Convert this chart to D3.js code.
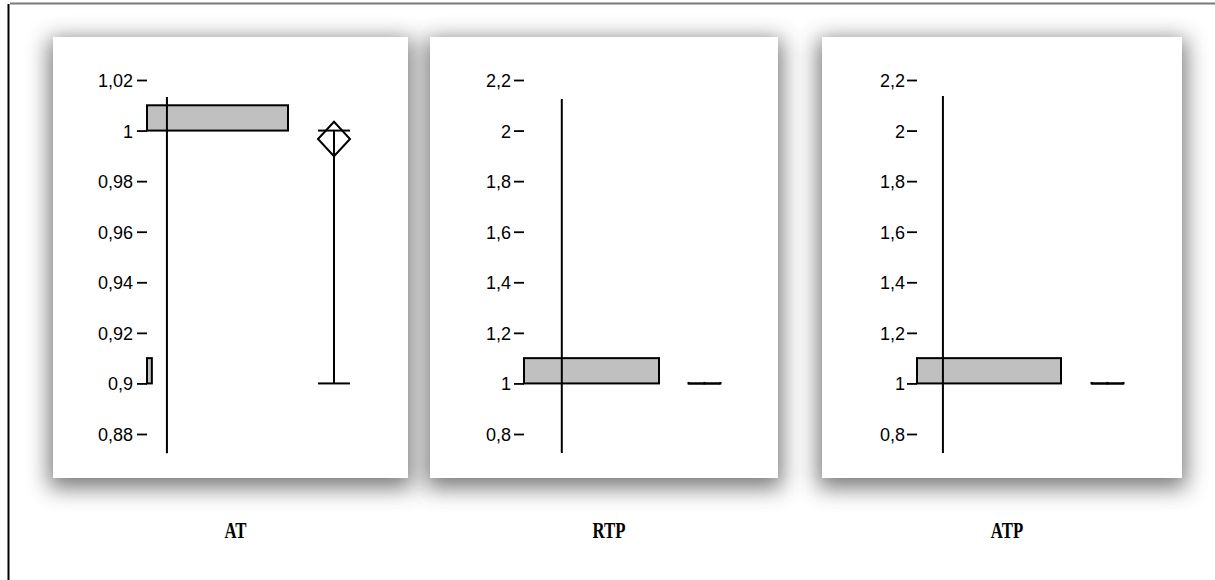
<!DOCTYPE html>
<html>
<head>
<meta charset="utf-8">
<script src="https://cdn.jsdelivr.net/npm/d3@7"></script>
<style>
  html, body { margin: 0; padding: 0; background: #ffffff; }
  svg { display: block; }
</style>
</head>
<body>
<svg id="chart" width="1215" height="580"></svg>
<script>
// ---------------- DATA ----------------
const panelNames = ["AT", "RTP", "ATP"];

// histogram bins (value ranges) and counts per panel
const binLows   = [[0.9, 1.0], [1.0], [1.0]];
const binHighs  = [[0.91, 1.01], [1.1], [1.1]];
const binCounts = [[1, 29], [30], [30]];

// y axis domains and tick values per panel
const yDomains = [[0.88, 1.02], [0.8, 2.2], [0.8, 2.2]];
const tickValues = [
  [0.88, 0.9, 0.92, 0.94, 0.96, 0.98, 1, 1.02],
  [0.8, 1, 1.2, 1.4, 1.6, 1.8, 2, 2.2],
  [0.8, 1, 1.2, 1.4, 1.6, 1.8, 2, 2.2]
];
const countMax = [29, 30, 30];

// vertical reference line (in count units) and its value extent
const refCounts = [4.1, 8.4, 5.4];
const refTop    = [1.0133, 2.125, 2.137];
const refBottom = [0.8724, 0.725, 0.725];

// box plot summaries
const boxMin    = [0.9, 1, 1];
const boxQ1     = [1, 1, 1];
const boxMedian = [1, 1, 1];
const boxQ3     = [1, 1, 1];
const boxMax    = [1, 1, 1];
const meanVals  = [0.99667, 1, 1];
const ciLow     = [0.98985, 1, 1];
const ciHigh    = [1.00349, 1, 1];

// ---------------- LAYOUT ----------------
const panels = [
  { x0: 53,  x1: 408,  barX0: 147, barX1: 288,  boxCx: 334,   pad: 4 },
  { x0: 430, x1: 778,  barX0: 524, barX1: 659,  boxCx: 704.5, pad: 3 },
  { x0: 822, x1: 1182, barX0: 917, barX1: 1061, boxCx: 1107.5, pad: 2 }
];
const panelTop = 37, panelBottom = 478;
const yTop = 80, yBottom = 434;
const boxHalf = 16;

const locale = d3.formatLocale({ decimal: ",", thousands: ".", grouping: [3], currency: ["", ""] });
const fmt = locale.format(".2~f");

const svg = d3.select("#chart");
const defs = svg.append("defs");
const f = defs.append("filter").attr("id", "shadow")
  .attr("x", "-30%").attr("y", "-30%").attr("width", "160%").attr("height", "160%");
f.append("feGaussianBlur").attr("stdDeviation", 11);

// outer frame lines
svg.append("line").attr("x1", 10).attr("x2", 1215).attr("y1", 3.5).attr("y2", 3.5)
  .attr("stroke", "#7a7a7a").attr("stroke-width", 2);
svg.append("line").attr("x1", 8.5).attr("x2", 8.5).attr("y1", 4).attr("y2", 580)
  .attr("stroke", "#000").attr("stroke-width", 2);

// shadows first (so they overlap beneath all panels)
panels.forEach(p => {
  svg.append("rect")
    .attr("x", p.x0 - 4).attr("y", panelTop + 2)
    .attr("width", p.x1 - p.x0 + 8).attr("height", panelBottom - panelTop + 8)
    .attr("fill", "#444").attr("opacity", 0.72)
    .attr("filter", "url(#shadow)");
});

panels.forEach((p, i) => {
  const g = svg.append("g");
  g.append("rect")
    .attr("x", p.x0).attr("y", panelTop)
    .attr("width", p.x1 - p.x0).attr("height", panelBottom - panelTop)
    .attr("fill", "#fff");

  const y = d3.scaleLinear().domain(yDomains[i]).range([yBottom, yTop]);
  const x = d3.scaleLinear().domain([0, countMax[i]]).range([p.barX0, p.barX1]);

  // y axis
  const axis = d3.axisLeft(y).tickValues(tickValues[i]).tickFormat(fmt)
    .tickSize(10).tickPadding(p.pad);
  const ag = g.append("g").attr("transform", `translate(${p.barX0},0)`).call(axis);
  ag.select(".domain").remove();
  ag.selectAll(".tick line").attr("stroke", "#000").attr("stroke-width", 1.8);
  ag.selectAll(".tick text")
    .attr("fill", "#000")
    .attr("dy", "0.36em")
    .style("font-family", "'Liberation Sans', Arial, sans-serif")
    .style("font-size", "18px");

  // histogram bars
  const bins = binCounts[i].map((c, k) => ({ lo: binLows[i][k], hi: binHighs[i][k], c }));
  g.selectAll("rect.bar").data(bins).enter().append("rect")
    .attr("class", "bar")
    .attr("x", x(0))
    .attr("y", d => y(d.hi))
    .attr("width", d => x(d.c) - x(0))
    .attr("height", d => y(d.lo) - y(d.hi))
    .attr("fill", "#c0c0c0")
    .attr("stroke", "#000").attr("stroke-width", 2);

  // vertical reference line
  g.append("line")
    .attr("x1", x(refCounts[i])).attr("x2", x(refCounts[i]))
    .attr("y1", y(refTop[i])).attr("y2", y(refBottom[i]))
    .attr("stroke", "#000").attr("stroke-width", 2);

  // box plot
  const cx = p.boxCx;
  const bg = g.append("g").attr("stroke", "#000").attr("fill", "none").attr("stroke-width", 2);
  bg.append("rect").attr("x", cx - boxHalf).attr("y", y(boxQ3[i]))
    .attr("width", boxHalf * 2).attr("height", Math.max(0, y(boxQ1[i]) - y(boxQ3[i])));
  if (y(boxMin[i]) - y(boxMax[i]) > 0.5) {
    bg.append("line").attr("x1", cx).attr("x2", cx)
      .attr("y1", y(boxMin[i])).attr("y2", y(boxMax[i]));
  }
  [boxMin[i], boxMax[i]].forEach(v => {
    bg.append("line").attr("x1", cx - boxHalf).attr("x2", cx + boxHalf)
      .attr("y1", y(v)).attr("y2", y(v));
  });
  if (y(boxMin[i]) - y(boxMax[i]) <= 0.5) {
    [cx - boxHalf, cx, cx + boxHalf].forEach(xx => {
      bg.append("line").attr("x1", xx).attr("x2", xx)
        .attr("y1", y(boxMedian[i]) - 1.5).attr("y2", y(boxMedian[i]) + 1);
    });
  }
  if (y(ciLow[i]) - y(ciHigh[i]) > 1) {
    const pts = [[cx, y(ciHigh[i])], [cx + boxHalf, y(meanVals[i])],
                 [cx, y(ciLow[i])], [cx - boxHalf, y(meanVals[i])]];
    bg.append("polygon").attr("points", pts.map(q => q.join(",")).join(" "));
  }

  // panel title
  svg.append("text")
    .attr("transform", `translate(${(p.x0 + p.x1) / 2 + 5},538) scale(0.7,1)`)
    .attr("text-anchor", "middle")
    .style("font-family", "'Liberation Serif', 'Times New Roman', serif")
    .style("font-weight", "bold")
    .style("font-size", "24px")
    .attr("fill", "#000")
    .text(panelNames[i]);
});
</script>
</body>
</html>
